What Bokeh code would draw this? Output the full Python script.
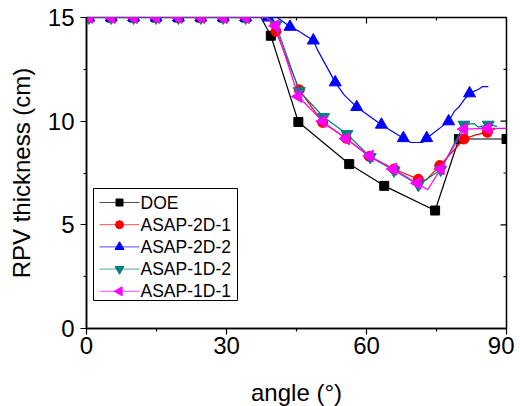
import numpy as np
from bokeh.plotting import figure
from bokeh.models import Range1d, FixedTicker
from bokeh.core.properties import value
from bokeh.embed import file_html
from bokeh.resources import INLINE

# ---------------- data ----------------
flat_x = [0.5, 5.3, 10.1, 14.9, 19.7, 24.5, 29.3, 34.1]
flat_y = [15.0] * 8
flat_m = [1] * 8

doe_x = flat_x + [37.4, 39.5, 45.4, 56.3, 63.8, 74.7, 79.8, 90.0]
doe_y = flat_y + [15.0, 14.12, 9.96, 7.93, 6.88, 5.69, 9.14, 9.14]
doe_m = flat_m + [0, 1, 1, 1, 1, 1, 1, 1]

a2d1_x = flat_x + [38.8, 40.6, 45.6, 50.6, 55.6, 60.6, 65.9, 71.1, 72.7, 75.7, 80.9, 83.4, 85.9, 87.5]
a2d1_y = flat_y + [15.0, 14.33, 11.51, 9.94, 9.18, 8.30, 7.69, 7.20, 7.14, 7.86, 9.14, 9.34, 9.46, 9.62]
a2d1_m = flat_m + [0, 1, 1, 1, 1, 1, 1, 1, 0, 1, 1, 0, 1, 0]

a2d2_x = flat_x + [38.9, 40.9, 43.6, 45.6, 48.6, 49.5, 53.3, 55.2, 57.9, 63.2, 67.9, 69.5, 72.0,
                   72.9, 77.6, 78.8, 79.9, 80.9, 82.1, 84.1, 84.9, 86.1]
a2d2_y = flat_y + [15.0, 15.0, 14.55, 14.33, 13.89, 13.44, 11.87, 11.27, 10.68, 9.83, 9.18, 8.97, 8.97,
                   9.18, 9.99, 10.47, 10.71, 11.03, 11.34, 11.55, 11.67, 11.67]
a2d2_m = flat_m + [1, 0, 1, 0, 1, 0, 1, 0, 1, 1, 1, 0, 0,
                   1, 1, 0, 0, 0, 1, 0, 0, 0]

a1d2_x = flat_x + [38.8, 40.6, 45.6, 50.8, 55.8, 60.8, 65.9, 71.1, 75.9, 80.9, 83.1, 84.0, 86.1, 88.0]
a1d2_y = flat_y + [15.0, 14.65, 11.45, 10.20, 9.38, 8.27, 7.62, 6.93, 7.66, 9.83, 9.88, 9.71, 9.83, 9.75]
a1d2_m = flat_m + [0, 1, 1, 1, 1, 1, 1, 1, 1, 1, 0, 0, 1, 0]

a1d1_x = flat_x + [38.5, 40.5, 45.4, 50.6, 55.6, 60.7, 65.7, 70.9, 73.1, 75.9, 80.9, 85.9, 90.0]
a1d1_y = flat_y + [15.0, 14.6, 11.19, 9.99, 9.15, 8.32, 7.69, 7.01, 6.69, 7.70, 9.62, 9.65, 9.65]
a1d1_m = flat_m + [0, 1, 1, 1, 1, 1, 1, 1, 0, 1, 1, 1, 0]

x_ticks = [0, 30, 60, 90]
x_minor = [15, 45, 75]
y_ticks = [0, 5, 10, 15]
y_minor = [2.5, 7.5, 12.5]

series_names = ["DOE", "ASAP-2D-1", "ASAP-2D-2", "ASAP-1D-2", "ASAP-1D-1"]
series_x = [doe_x, a2d1_x, a2d2_x, a1d2_x, a1d1_x]
series_y = [doe_y, a2d1_y, a2d2_y, a1d2_y, a1d1_y]
series_m = [doe_m, a2d1_m, a2d2_m, a1d2_m, a1d1_m]

# ---------------- styles ----------------
colors = ["#000000", "#FF0000", "#0000FF", "#008080", "#FF00FF"]
markers = ["square", "circle", "triangle", "inverted_triangle", "triangle"]
sizes = [9, 10, 12, 12, 12]
legend_sizes = [7, 8, 9, 9, 9]
angles = [0.0, 0.0, 0.0, 0.0, np.pi / 2]

FONT = "Liberation Sans"
XMIN, XMAX, YMIN, YMAX = 0, 90, 0, 15
FW, FH = 420, 311

p = figure(frame_width=FW, frame_height=FH, output_backend="svg", toolbar_location=None,
           x_range=Range1d(XMIN, XMAX), y_range=Range1d(YMIN, YMAX),
           min_border_left=86, min_border_top=17, min_border_right=8, min_border_bottom=60,
           background_fill_color="white", border_fill_color="white")
p.outline_line_color = "black"
p.outline_line_width = 1.5
p.grid.visible = False

for ax, ticks, minor in ((p.xaxis[0], x_ticks, x_minor), (p.yaxis[0], y_ticks, y_minor)):
    ax.ticker = FixedTicker(ticks=ticks, minor_ticks=minor)
    ax.axis_line_color = "black"
    ax.axis_line_width = 1.5
    ax.major_tick_line_color = "black"
    ax.minor_tick_line_color = "black"
    ax.major_tick_line_width = 1.2
    ax.minor_tick_line_width = 1.2
    ax.major_tick_in, ax.major_tick_out = 0, 6
    ax.minor_tick_in, ax.minor_tick_out = 0, 3
    ax.major_label_text_font = FONT
    ax.major_label_text_font_size = "24px"
    ax.major_label_text_color = "black"
    ax.axis_label_text_font = FONT
    ax.axis_label_text_font_size = "24px"
    ax.axis_label_text_font_style = "normal"
    ax.axis_label_text_color = "black"

p.xaxis[0].axis_label = "angle (°)"
p.xaxis[0].major_label_standoff = 2
p.xaxis[0].axis_label_standoff = 22
p.yaxis[0].axis_label = "RPV thickness (cm)"
p.yaxis[0].major_label_standoff = 6
p.yaxis[0].axis_label_standoff = 10

# mirrored inward ticks on the top and right frame edges
p.ray(x=x_ticks, y=[YMAX] * len(x_ticks), length=6, length_units="screen",
      angle=-np.pi / 2, line_color="black", line_width=1.2)
p.ray(x=x_minor, y=[YMAX] * len(x_minor), length=3, length_units="screen",
      angle=-np.pi / 2, line_color="black", line_width=1.2)
p.ray(x=[XMAX] * len(y_ticks), y=y_ticks, length=6, length_units="screen",
      angle=np.pi, line_color="black", line_width=1.2)
p.ray(x=[XMAX] * len(y_minor), y=y_minor, length=3, length_units="screen",
      angle=np.pi, line_color="black", line_width=1.2)

# ---------------- series ----------------
for xs, ys, ms, color, marker, size, ang in zip(series_x, series_y, series_m, colors,
                                                  markers, sizes, angles):
    p.line(xs, ys, line_color=color, line_width=1.2)
    mx = [x for x, m in zip(xs, ms) if m]
    my = [y for y, m in zip(ys, ms) if m]
    p.scatter(mx, my, marker=marker, size=size, angle=ang, fill_color=color, line_color=color)

# ---------------- legend (drawn from glyphs so the rotated marker is kept) ----------------
# layout in screen px measured from the frame's bottom-left corner
BOX_L, BOX_R, BOX_B, BOX_T = 7, 151, 28, 140
FIRST_Y, STEP = 126, 22.2
LINE_L, LINE_R, TEXT_X = 13, 53, 54


def dx(px):
    return XMIN + px / FW * (XMAX - XMIN)


def dy(px):
    return YMIN + px / FH * (YMAX - YMIN)


p.quad(left=[dx(BOX_L)], right=[dx(BOX_R)], bottom=[dy(BOX_B)], top=[dy(BOX_T)],
       fill_color="white", line_color="black", line_width=1)
rows_y = [dy(FIRST_Y - i * STEP) for i in range(len(series_names))]
for name, yy, color, marker, lsize, ang in zip(series_names, rows_y, colors, markers,
                                                legend_sizes, angles):
    p.line([dx(LINE_L), dx(LINE_R)], [yy, yy], line_color=color, line_width=1, line_alpha=0.7)
    p.scatter([dx((LINE_L + LINE_R) / 2)], [yy], marker=marker, size=lsize, angle=ang,
              fill_color=color, line_color=color)
p.text(x=[dx(TEXT_X)] * len(series_names), y=rows_y,
       text=[(" " + n if n == "DOE" else n) for n in series_names],
       text_font=value(FONT), text_font_size=value("17.5px"), text_color="black",
       text_align="left", text_baseline="middle")

open("out.html", "w").write(file_html(p, INLINE))
